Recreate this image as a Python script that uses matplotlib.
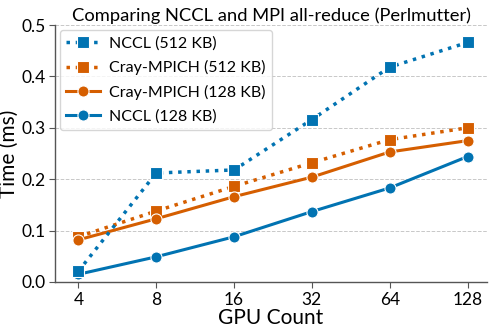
import matplotlib
matplotlib.use("Agg")
import matplotlib.pyplot as plt
import numpy as np

plt.rcParams['font.family'] = ['Lato', 'DejaVu Sans']

gpu_counts = ["4", "8", "16", "32", "64", "128"]
nccl_512 = [0.021, 0.212, 0.218, 0.316, 0.418, 0.466]
nccl_512_err = [0.004, 0.008, 0.004, 0.004, 0.004, 0.012]
cray_512 = [0.088, 0.138, 0.186, 0.232, 0.277, 0.300]
cray_128 = [0.082, 0.123, 0.166, 0.204, 0.253, 0.275]
nccl_128 = [0.015, 0.049, 0.088, 0.137, 0.183, 0.244]

blue = "#0173b2"
orange = "#d55e00"

fig = plt.figure(figsize=(4.93, 3.32), dpi=100)
ax = fig.add_axes([55/493, 1-282/332, (487-55)/493, (282-25)/332])
x = np.arange(len(gpu_counts))

h1 = ax.errorbar(x, nccl_512, yerr=nccl_512_err, color=blue, ls=':', lw=2.5, marker='s', ms=8,
                 label="NCCL (512 KB)", mec='white', mew=0.8, elinewidth=1.5, zorder=4)
h2, = ax.plot(x, cray_512, color=orange, ls=':', lw=2.5, marker='s', ms=8, mec='white', mew=0.8,
              label="Cray-MPICH (512 KB)", zorder=3)
h3, = ax.plot(x, cray_128, color=orange, ls='-', lw=2.2, marker='o', ms=8, mec='white', mew=0.8,
              label="Cray-MPICH (128 KB)", zorder=3)
h4, = ax.plot(x, nccl_128, color=blue, ls='-', lw=2.2, marker='o', ms=8, mec='white', mew=0.8,
              label="NCCL (128 KB)", zorder=3)

ax.set_xticks(x)
ax.set_xticklabels(gpu_counts)
ax.set_xlim(-0.3, 5.25)
ax.set_ylim(0, 0.5)
ax.set_yticks([0.0, 0.1, 0.2, 0.3, 0.4, 0.5])
ax.set_yticklabels(["0.0", "0.1", "0.2", "0.3", "0.4", "0.5"])
ax.tick_params(labelsize=12.5, length=4, color='#555555')
ax.tick_params(axis='y', pad=2.5)
ax.yaxis.grid(True, ls='--', lw=0.7, color='#c8c8c8')
ax.set_axisbelow(True)
for s in ['top', 'right']:
    ax.spines[s].set_visible(False)
for s in ['left', 'bottom']:
    ax.spines[s].set_color('#555555')
    ax.spines[s].set_linewidth(1.0)

ax.set_xlabel("GPU Count", fontsize=15, labelpad=0)
ax.set_ylabel("Time (ms)", fontsize=15)
ax.yaxis.set_label_coords(-0.083, 0.5)
ax.set_title("Comparing NCCL and MPI all-reduce (Perlmutter)", fontsize=13.2, pad=3)
handles = [h1[0], h2, h3, h4]
labels = ["NCCL (512 KB)", "Cray-MPICH (512 KB)", "Cray-MPICH (128 KB)", "NCCL (128 KB)"]
ax.legend(handles, labels,
          loc='upper left', fontsize=11.5, frameon=True, handlelength=2.1,
          handletextpad=0.6, borderaxespad=0.3, labelspacing=0.6)

fig.savefig("out.png", dpi=100)
